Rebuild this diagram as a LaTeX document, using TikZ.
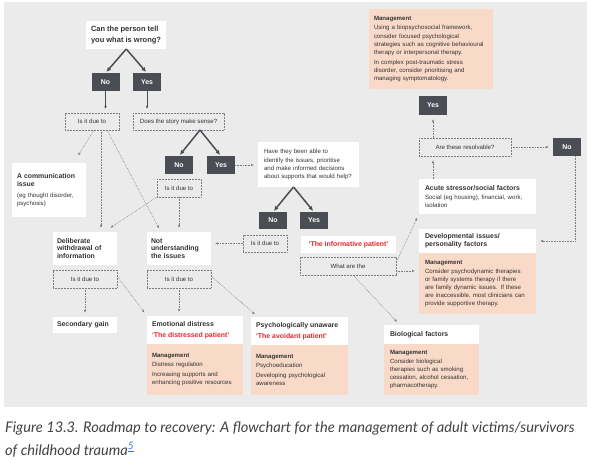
\documentclass[tikz,border=0pt]{standalone}
\usepackage{fontspec}
\setmainfont{Liberation Sans}
\newfontfamily\capfont{Lato}
\usepackage{tikz}
\usetikzlibrary{calc}
\usetikzlibrary{arrows.meta}
\definecolor{panel}{RGB}{235,235,236}
\definecolor{darkbox}{RGB}{74,78,84}
\definecolor{peach}{RGB}{249,217,199}
\definecolor{redtext}{RGB}{228,38,44}
\definecolor{dotline}{RGB}{125,125,125}
\definecolor{bodytext}{RGB}{51,51,51}
\definecolor{captext}{RGB}{66,66,66}
\definecolor{linkblue}{RGB}{42,122,226}
\newcommand{\smallfont}{\fontsize{6.1}{8.1}\selectfont}
\newcommand{\headfont}{\fontsize{6.9}{7.8}\selectfont\bfseries}
\newcommand{\bigfont}{\fontsize{7.5}{10.8}\selectfont\bfseries}
\tikzstyle{box}=[inner xsep=6pt, inner ysep=0pt, outer sep=0pt, text=bodytext]
\tikzstyle{wbox}=[box, fill=white, align=left, font=\smallfont]
\tikzstyle{mbox}=[box, fill=peach, align=left, font=\smallfont]
\tikzstyle{dbox}=[box, inner xsep=0pt, fill=darkbox, text=white, font=\headfont, minimum width=28pt, minimum height=18pt]
\tikzstyle{qbox}=[box, inner xsep=0pt, draw=dotline, line width=0.5pt, dash pattern=on 0.6pt off 0.9pt, font=\smallfont]
\tikzstyle{bigarr}=[draw=darkbox, line width=1.5pt, -{Latex[length=4.5pt,width=4.5pt]}, shorten >=1.5pt]
\tikzstyle{solarr}=[draw=darkbox, line width=0.5pt, -{Latex[length=3pt,width=2.4pt]}, shorten >=4pt]
\tikzstyle{dotarr}=[draw=dotline, line width=0.6pt, dash pattern=on 0.6pt off 1pt, -{Latex[length=3pt,width=2.4pt]}, shorten >=4pt]

\begin{document}
\begin{tikzpicture}[x=1pt, y=-1pt]
        \useasboundingbox (0,0) rectangle (591,462);
        \fill[panel] (4,2) rectangle (587,407);

        \node[wbox, font=\bigfont, inner xsep=0pt, minimum width=80pt, minimum height=28pt] (can) at (126,35) {Can the person tell\\you what is wrong?};
        \node[dbox] (no1) at (105.5,82) {No};
        \node[dbox] (yes1) at (147,82) {Yes};
        \node[qbox, minimum width=54pt, minimum height=17pt] (due1) at (92,121.5) {Is it due to};
        \node[qbox, minimum width=91pt, minimum height=17pt] (story) at (178.5,121.5) {Does the story make sense?};
        \node[dbox] (no2) at (179,165) {No};
        \node[dbox] (yes2) at (221,165) {Yes};
        \node[qbox, minimum width=44pt, minimum height=18pt] (due2) at (179,188) {Is it due to};
        \node[wbox, text width=64pt, inner xsep=5pt, minimum height=54pt] (comm) at (49,190) {{\headfont A communication\\issue}\\[3pt](eg thought disorder,\\psychosis)};

        \node[wbox, text width=89pt, minimum height=45pt] (ques) at (308.5,164.5) {Have they been able to\\identify the issues, prioritise\\and make informed decisions\\about supports that would help?};
        \node[dbox, minimum height=17pt] (no3) at (273,220.5) {No};
        \node[dbox, minimum height=17pt] (yes3) at (314,220.5) {Yes};
        \node[qbox, minimum width=44pt, minimum height=17pt] (due3) at (265,243.5) {Is it due to};
        \node[wbox, inner xsep=0pt, text=redtext, font=\headfont, minimum width=95pt, minimum height=17pt] (inform) at (348.5,244.5) {`The informative patient'};
        \node[qbox, minimum width=96pt, minimum height=18pt] (what) at (348,266) {What are the};

        \node[wbox, font=\headfont, text width=56pt, inner xsep=4pt, minimum height=33pt] (delib) at (85,248.5) {Deliberate\\withdrawal of\\information};
        \node[wbox, font=\headfont, text width=56pt, inner xsep=4pt, minimum height=33pt] (notund) at (179,248.5) {Not\\understanding\\the issues};
        \node[qbox, minimum width=64pt, minimum height=18pt] (due4) at (85,279) {Is it due to};
        \node[qbox, minimum width=64pt, minimum height=18pt] (due5) at (179,279) {Is it due to};
        \node[wbox, font=\headfont, text width=56pt, inner xsep=4pt, minimum height=16pt] (secgain) at (85,325) {Secondary gain};

        \node[wbox, text width=86pt, inner xsep=5pt, minimum height=28pt] (emo) at (195,330) {{\headfont Emotional distress}\\[3pt]{\headfont\color{redtext}`The distressed patient'}};
        \node[mbox, text width=86pt, inner xsep=5pt, minimum height=51pt] (emoM) at (195,369.5) {\textbf{Management}\\[1.5pt]Distress regulation\\[2pt]Increasing supports and\\enhancing positive resources};
        \node[wbox, text width=87pt, inner xsep=5pt, minimum height=28pt] (psy) at (299.5,331) {{\headfont Psychologically unaware}\\[3pt]{\headfont\color{redtext}`The avoidant patient'}};
        \node[mbox, text width=87pt, inner xsep=5pt, minimum height=50pt] (psyM) at (299.5,370) {\textbf{Management}\\[1.5pt]Psychoeducation\\[2pt]Developing psychological\\awareness};
        \node[wbox, font=\headfont, text width=83pt, minimum height=19pt] (bio) at (431.5,334.5) {Biological factors};
        \node[mbox, text width=83pt, minimum height=51pt] (bioM) at (431.5,369.5) {\textbf{Management}\\[1.5pt]Consider biological\\therapies such as smoking\\cessation, alcohol cessation,\\pharmacotherapy.};

        \node[wbox, font=\headfont, text width=105pt, minimum height=24pt] (dev) at (477.5,241) {Developmental issues/\\personality factors};
        \node[mbox, text width=105pt, minimum height=61pt] (devM) at (477.5,283.5) {\textbf{Management}\\[1pt]Consider psychodynamic therapies\\or family systems therapy if there\\are family dynamic issues. If these\\are inaccessible, most clinicians can\\provide supportive therapy.};
        \node[wbox, text width=105pt, minimum height=35pt] (acute) at (477.5,196.5) {{\headfont Acute stressor/social factors}\\[1.5pt]Social (eg housing), financial, work,\\isolation};
        \node[qbox, minimum width=92pt, minimum height=18pt] (resolv) at (465,147) {Are these resolvable?};
        \node[dbox, minimum height=19pt] (yes4) at (433,105.5) {Yes};
        \node[dbox] (no4) at (567,147) {No};
        \node[mbox, text width=114pt, inner xsep=5pt, minimum height=80pt] (mgmt) at (431,49) {\textbf{Management}\\[1.5pt]Using a biopsychosocial framework,\\consider focused psychological\\strategies such as cognitive behavioural\\therapy or interpersonal therapy.\\[2pt]In complex post-traumatic stress\\disorder, consider prioritising and\\managing symptomatology.};

        \coordinate (canS) at ($(no1.north)!0.5!(yes1.north)$);
        \coordinate (storyS) at ($(no2.north)!0.5!(yes2.north)$);
        \coordinate (quesS) at ($(no3.north)!0.5!(yes3.north)$);
        \draw[bigarr] (canS |- can.south) -- (no1.north);
        \draw[bigarr] (canS |- can.south) -- (yes1.north);
        \draw[bigarr] (storyS |- story.south) -- (no2.north);
        \draw[bigarr] (storyS |- story.south) -- (yes2.north);
        \draw[bigarr] (quesS |- ques.south) -- (no3.north);
        \draw[bigarr] (quesS |- ques.south) -- (yes3.north);
        \draw[solarr] (no1.south) -- (no1.south |- due1.north);
        \draw[solarr] (yes1.south) -- (yes1.south |- story.north);

        \draw[dotarr] (yes2.east) -- (yes2.east -| ques.west);
        \draw[dotarr] ([xshift=2pt]due1.south) -- ([xshift=-10pt,yshift=4pt]comm.north east);
        \draw[dotarr] ([xshift=9pt]due1.south) -- ([xshift=9pt]due1.south |- delib.north);
        \draw[dotarr] ([xshift=15pt]due1.south) -- ([xshift=14pt]notund.north west);
        \draw[dotarr] (due2.south west) -- ([xshift=-10pt,yshift=2pt]delib.north east);
        \draw[dotarr] (due2.south) -- (notund.north);
        \draw[dotarr] (due3.west) -- (due3.west -| notund.east);
        \draw[dotarr] (due4.south) -- (secgain.north);
        \draw[dotarr] ([yshift=3pt]due4.east) -- (emo.north west);
        \draw[dotarr] (due5.south) -- (due5.south |- emo.north);
        \draw[dotarr] ([yshift=3pt]due5.east) -- ([xshift=7pt]psy.north west);
        \draw[dotarr] ([yshift=3pt]what.east) -- (acute.south west);
        \draw[dotarr] ([yshift=-5pt]what.east) -- ([yshift=-5pt]what.east -| devM.west);
        \draw[dotarr] ([xshift=5pt]what.south) -- ([xshift=16pt]bio.north west);
        \draw[dotarr] ([xshift=14pt]acute.north west) -- ([xshift=14pt]resolv.south west);
        \draw[dotarr] ([xshift=14pt]resolv.north west) -- (yes4.south);
        \draw[dotarr] (resolv.east) -- (no4.west);
        \draw[dotarr] ([xshift=-6pt]no4.south east) |- (dev.east);

        \node[anchor=base west, inner sep=0pt, text=captext, font=\capfont\itshape\fontsize{14.65}{23}\selectfont] (cap1) at (5,432) {Figure 13.3. Roadmap to recovery: A flowchart for the management of adult victims/survivors};
        \node[anchor=base west, inner sep=0pt, text=captext, font=\capfont\itshape\fontsize{14.65}{23}\selectfont] (cap2) at (5,455) {of childhood trauma\textsuperscript{\textcolor{linkblue}{\underline{5}}}};
    \end{tikzpicture}
\end{document}
